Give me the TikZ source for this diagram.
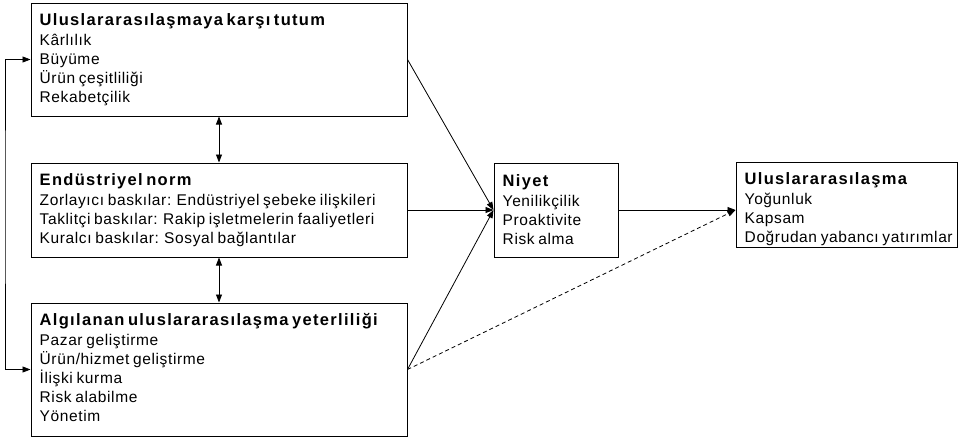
\documentclass[tikz,border=0pt]{standalone}
\usepackage{fontspec}
\setmainfont{Liberation Sans}[LetterSpace=4, WordSpace=0.75]
\newfontfamily\headfont{Liberation Sans}[LetterSpace=8, WordSpace=0.6]
\usetikzlibrary{arrows.meta}
\newcommand\boxhead[1]{{\headfont\bfseries\fontsize{16.5}{19}\selectfont\rule{0pt}{13pt}#1}}
\begin{document}
\begin{tikzpicture}[x=1pt,y=-1pt,
  box/.style={draw=black, line width=1pt, rectangle, inner sep=0pt},
  boxtext/.style={anchor=north west, inner sep=0pt, align=left,
    font=\fontsize{15.5}{19}\selectfont},
  tip/.tip={Triangle[length=8pt,width=6pt]},
  link/.style={line width=0.8pt, -tip},
  twoway/.style={line width=0.8pt, tip-tip},
  weaklink/.style={link, dash pattern=on 4pt off 3pt}
]
\useasboundingbox (0,0) rectangle (960,437);

% constructs
\node[box, minimum width=376pt, minimum height=113pt] (att)  at (219,59.5)  {};
\node[box, minimum width=376pt, minimum height=94pt]  (norm) at (219,210)   {};
\node[box, minimum width=376pt, minimum height=133pt] (comp) at (219,369.5) {};
\node[box, minimum width=124pt, minimum height=94pt]  (intent) at (556,210) {};
\node[box, minimum width=221pt, minimum height=85pt]  (intl) at (846.5,204.5) {};

% contents
\node[boxtext] (attText) at ([xshift=9pt,yshift=-10pt]att.north west)
  {\boxhead{Uluslararasılaşmaya karşı tutum}\\[1pt]
   Kârlılık\\ Büyüme\\ Ürün çeşitliliği\\ Rekabetçilik};
\node[boxtext] (normText) at ([xshift=9pt,yshift=-10pt]norm.north west)
  {\boxhead{Endüstriyel norm}\\[1pt]
   Zorlayıcı baskılar: Endüstriyel şebeke ilişkileri\\
   Taklitçi baskılar: Rakip işletmelerin faaliyetleri\\
   Kuralcı baskılar: Sosyal bağlantılar};
\node[boxtext] (compText) at ([xshift=9pt,yshift=-10pt]comp.north west)
  {\boxhead{Algılanan uluslararasılaşma yeterliliği}\\[1pt]
   Pazar geliştirme\\ Ürün/hizmet geliştirme\\ İlişki kurma\\
   Risk alabilme\\ Yönetim};
\node[boxtext] (intentText) at ([xshift=9pt,yshift=-11pt]intent.north west)
  {\boxhead{Niyet}\\[1pt]
   Yenilikçilik\\ Proaktivite\\ Risk alma};
\node[boxtext] (intlText) at ([xshift=9pt,yshift=-10pt]intl.north west)
  {\boxhead{Uluslararasılaşma}\\[1pt]
   Yoğunluk\\ Kapsam\\ Doğrudan yabancı yatırımlar};

% connectors
\coordinate (intlIn) at (intent.east -| intl.west);
\draw[link] (att.east)  -- (intent.west);
\draw[link] (norm.east) -- (intent.west);
\draw[link] (comp.east) -- (intent.west);
\draw[link] (intent.east) -- (intlIn);
\draw[weaklink] (comp.east) -- (intlIn);
\draw[twoway] (att.south) -- (norm.north);
\draw[twoway] (norm.south) -- (comp.north);
\coordinate (loop) at (5,200);
\draw[twoway] (att.west) -| (loop) |- (comp.west);
\end{tikzpicture}
\end{document}
